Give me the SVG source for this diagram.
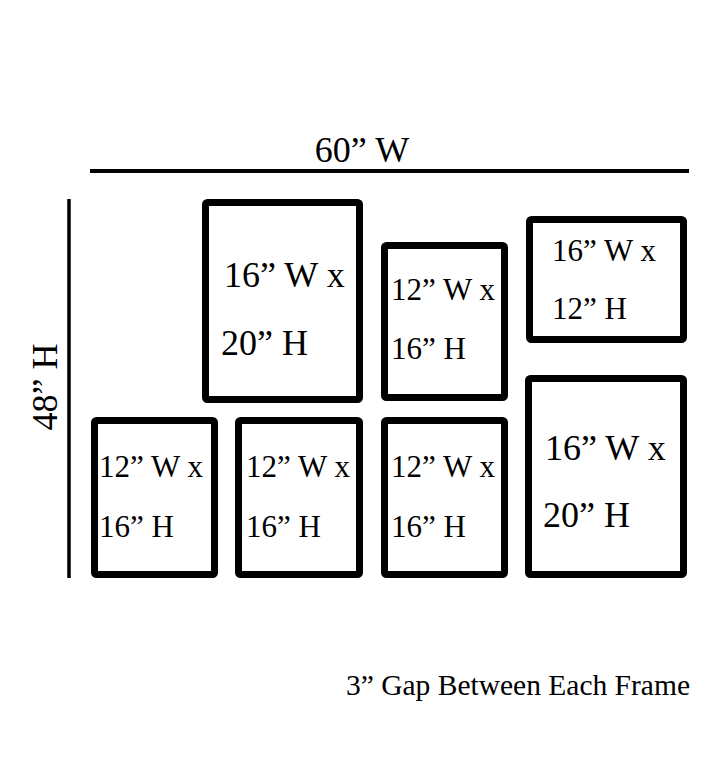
<svg xmlns="http://www.w3.org/2000/svg" width="720" height="778" viewBox="0 0 720 778">
<style>
.frame{fill:#fff;stroke:#000;stroke-width:7;stroke-linejoin:round}
text{font-family:"Liberation Serif","Times New Roman",serif;fill:#000}
.big{font-size:36px}
.sm{font-size:31px}
</style>
<rect width="720" height="778" fill="#fff"/>
<g id="dimensions">
<line x1="90" y1="171" x2="689" y2="171" stroke="#000" stroke-width="4"/>
<text class="big" x="362" y="162" text-anchor="middle">60” W</text>
<line x1="69" y1="199" x2="69" y2="578" stroke="#000" stroke-width="3.5"/>
<text class="big" transform="translate(57,387) rotate(-90)" text-anchor="middle">48” H</text>
</g>
<g id="frame1">
<rect class="frame" x="205.5" y="202.5" width="154" height="197" rx="2"/>
<text class="big" x="224" y="287">16” W x</text>
<text class="big" x="221" y="355">20” H</text>
</g>
<g id="frame2">
<rect class="frame" x="384.5" y="245.5" width="120" height="152" rx="2"/>
<text class="sm" x="391" y="300">12” W x</text>
<text class="sm" x="391" y="359">16” H</text>
</g>
<g id="frame3">
<rect class="frame" x="529.5" y="219.5" width="154" height="120" rx="2"/>
<text class="sm" x="552" y="261">16” W x</text>
<text class="sm" x="552" y="319">12” H</text>
</g>
<g id="frame4">
<rect class="frame" x="528.5" y="378.5" width="155" height="196" rx="2"/>
<text class="big" x="545" y="460">16” W x</text>
<text class="big" x="543" y="527">20” H</text>
</g>
<g id="frame5">
<rect class="frame" x="94.5" y="420.5" width="120" height="154" rx="2"/>
<text class="sm" x="99" y="477">12” W x</text>
<text class="sm" x="99" y="537">16” H</text>
</g>
<g id="frame6">
<rect class="frame" x="238.5" y="420.5" width="121" height="154" rx="2"/>
<text class="sm" x="246" y="477">12” W x</text>
<text class="sm" x="246" y="537">16” H</text>
</g>
<g id="frame7">
<rect class="frame" x="384.5" y="420.5" width="120" height="154" rx="2"/>
<text class="sm" x="391" y="477">12” W x</text>
<text class="sm" x="391" y="537">16” H</text>
</g>
<g id="note">
<text x="690" y="695" text-anchor="end" style="font-size:29.5px">3” Gap Between Each Frame</text>
</g>
</svg>
